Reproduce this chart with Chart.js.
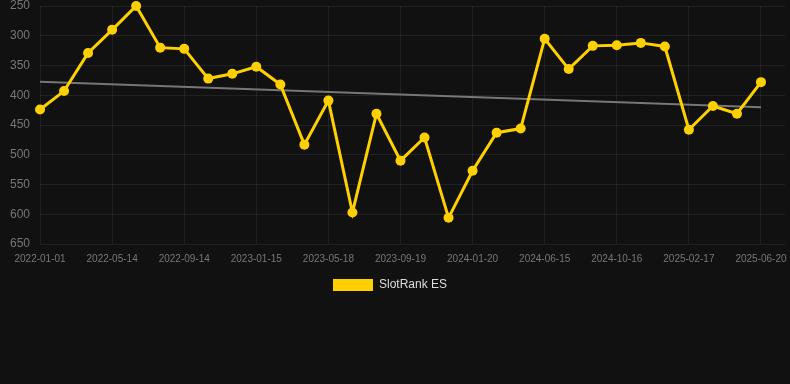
<!DOCTYPE html>
<html>
<head>
<meta charset="utf-8">
<script src="https://cdn.jsdelivr.net/npm/chart.js@4"></script>
<style>
  html, body { margin: 0; padding: 0; background: #111111; }
  #wrap { width: 790px; height: 305px; position: relative; }
</style>
</head>
<body>
<div id="wrap"><canvas id="c"></canvas></div>
<script>
const dates = [
  '2022-01-01','2022-02-14','2022-03-30','2022-05-14','2022-06-24','2022-08-04',
  '2022-09-14','2022-10-25','2022-12-05','2023-01-15','2023-02-25','2023-04-07',
  '2023-05-18','2023-06-28','2023-08-09','2023-09-19','2023-10-30','2023-12-10',
  '2024-01-20','2024-03-09','2024-04-27','2024-06-15','2024-07-26','2024-09-05',
  '2024-10-16','2024-11-26','2025-01-07','2025-02-17','2025-03-30','2025-05-10',
  '2025-06-20'
];
const rankES = [
  424, 393, 329, 290, 250, 320, 322, 372, 364, 352, 382, 483, 409, 597, 431,
  510, 471, 606, 527, 463, 456, 305, 356, 317, 316, 312, 318, 458, 418, 431, 378
];
const yTicks = [250, 300, 350, 400, 450, 500, 550, 600, 650];
const seriesName = 'SlotRank ES';

// least-squares trend derived from the series
const n = rankES.length;
let sx = 0, sy = 0, sxx = 0, sxy = 0;
rankES.forEach((v, i) => { sx += i; sy += v; sxx += i * i; sxy += i * v; });
const slope = (n * sxy - sx * sy) / (n * sxx - sx * sx);
const icpt = (sy - slope * sx) / n;
const trend = [{x: 0, y: icpt}, {x: n - 1, y: icpt + slope * (n - 1)}];

const yellow = '#ffd000';
const gridCol = 'rgba(255,255,255,0.07)';
const zeroPad = (axis) => {
  axis.paddingLeft = 0; axis.paddingRight = 0;
  axis.paddingTop = 0; axis.paddingBottom = 0;
};

const legendShift = {
  id: 'legendShift',
  afterLayout(chart) {
    if (chart.legend) { chart.legend.left -= 5; chart.legend.right -= 5; }
  }
};

new Chart(document.getElementById('c'), {
  type: 'line',
  plugins: [legendShift],
  data: {
    datasets: [
      {
        label: seriesName,
        data: rankES.map((v, i) => ({x: i, y: v})),
        borderColor: yellow,
        backgroundColor: yellow,
        borderWidth: 3,
        pointRadius: 5,
        pointBackgroundColor: yellow,
        pointBorderColor: yellow,
        pointBorderWidth: 0,
        tension: 0,
        clip: false
      },
      {
        label: 'trend',
        data: trend,
        borderColor: '#777777',
        backgroundColor: '#777777',
        borderWidth: 2,
        pointRadius: 0,
        tension: 0
      }
    ]
  },
  options: {
    responsive: true,
    maintainAspectRatio: false,
    animation: false,
    layout: { padding: { left: 0, right: 0, top: 6, bottom: 4 } },
    scales: {
      x: {
        type: 'linear',
        min: 0,
        max: 31,
        afterFit: zeroPad,
        grid: { color: gridCol, drawTicks: false },
        border: { display: false },
        ticks: {
          stepSize: 3,
          includeBounds: false,
          maxRotation: 0,
          autoSkip: false,
          padding: 9,
          color: '#777777',
          font: { family: 'Liberation Sans, Arial, sans-serif', size: 10 },
          callback: (v) => dates[v] !== undefined ? dates[v] : ''
        }
      },
      y: {
        reverse: true,
        min: yTicks[0],
        max: yTicks[yTicks.length - 1],
        afterBuildTicks: (axis) => { axis.ticks = yTicks.map(v => ({value: v})); },
        afterFit: zeroPad,
        grid: { color: gridCol, drawTicks: false },
        border: { display: false },
        ticks: {
          padding: 10,
          color: '#777777',
          font: { family: 'Liberation Sans, Arial, sans-serif', size: 12 }
        }
      }
    },
    plugins: {
      legend: {
        position: 'bottom',
        labels: {
          boxWidth: 40,
          boxHeight: 12,
          padding: 5,
          color: '#dddddd',
          font: { family: 'Liberation Sans, Arial, sans-serif', size: 12 },
          filter: (item) => item.datasetIndex === 0,
          generateLabels: (chart) => {
            const items = Chart.defaults.plugins.legend.labels.generateLabels(chart);
            items.forEach(it => { it.lineWidth = 0; });
            return items;
          }
        }
      },
      tooltip: { enabled: false }
    }
  }
});
</script>
</body>
</html>
